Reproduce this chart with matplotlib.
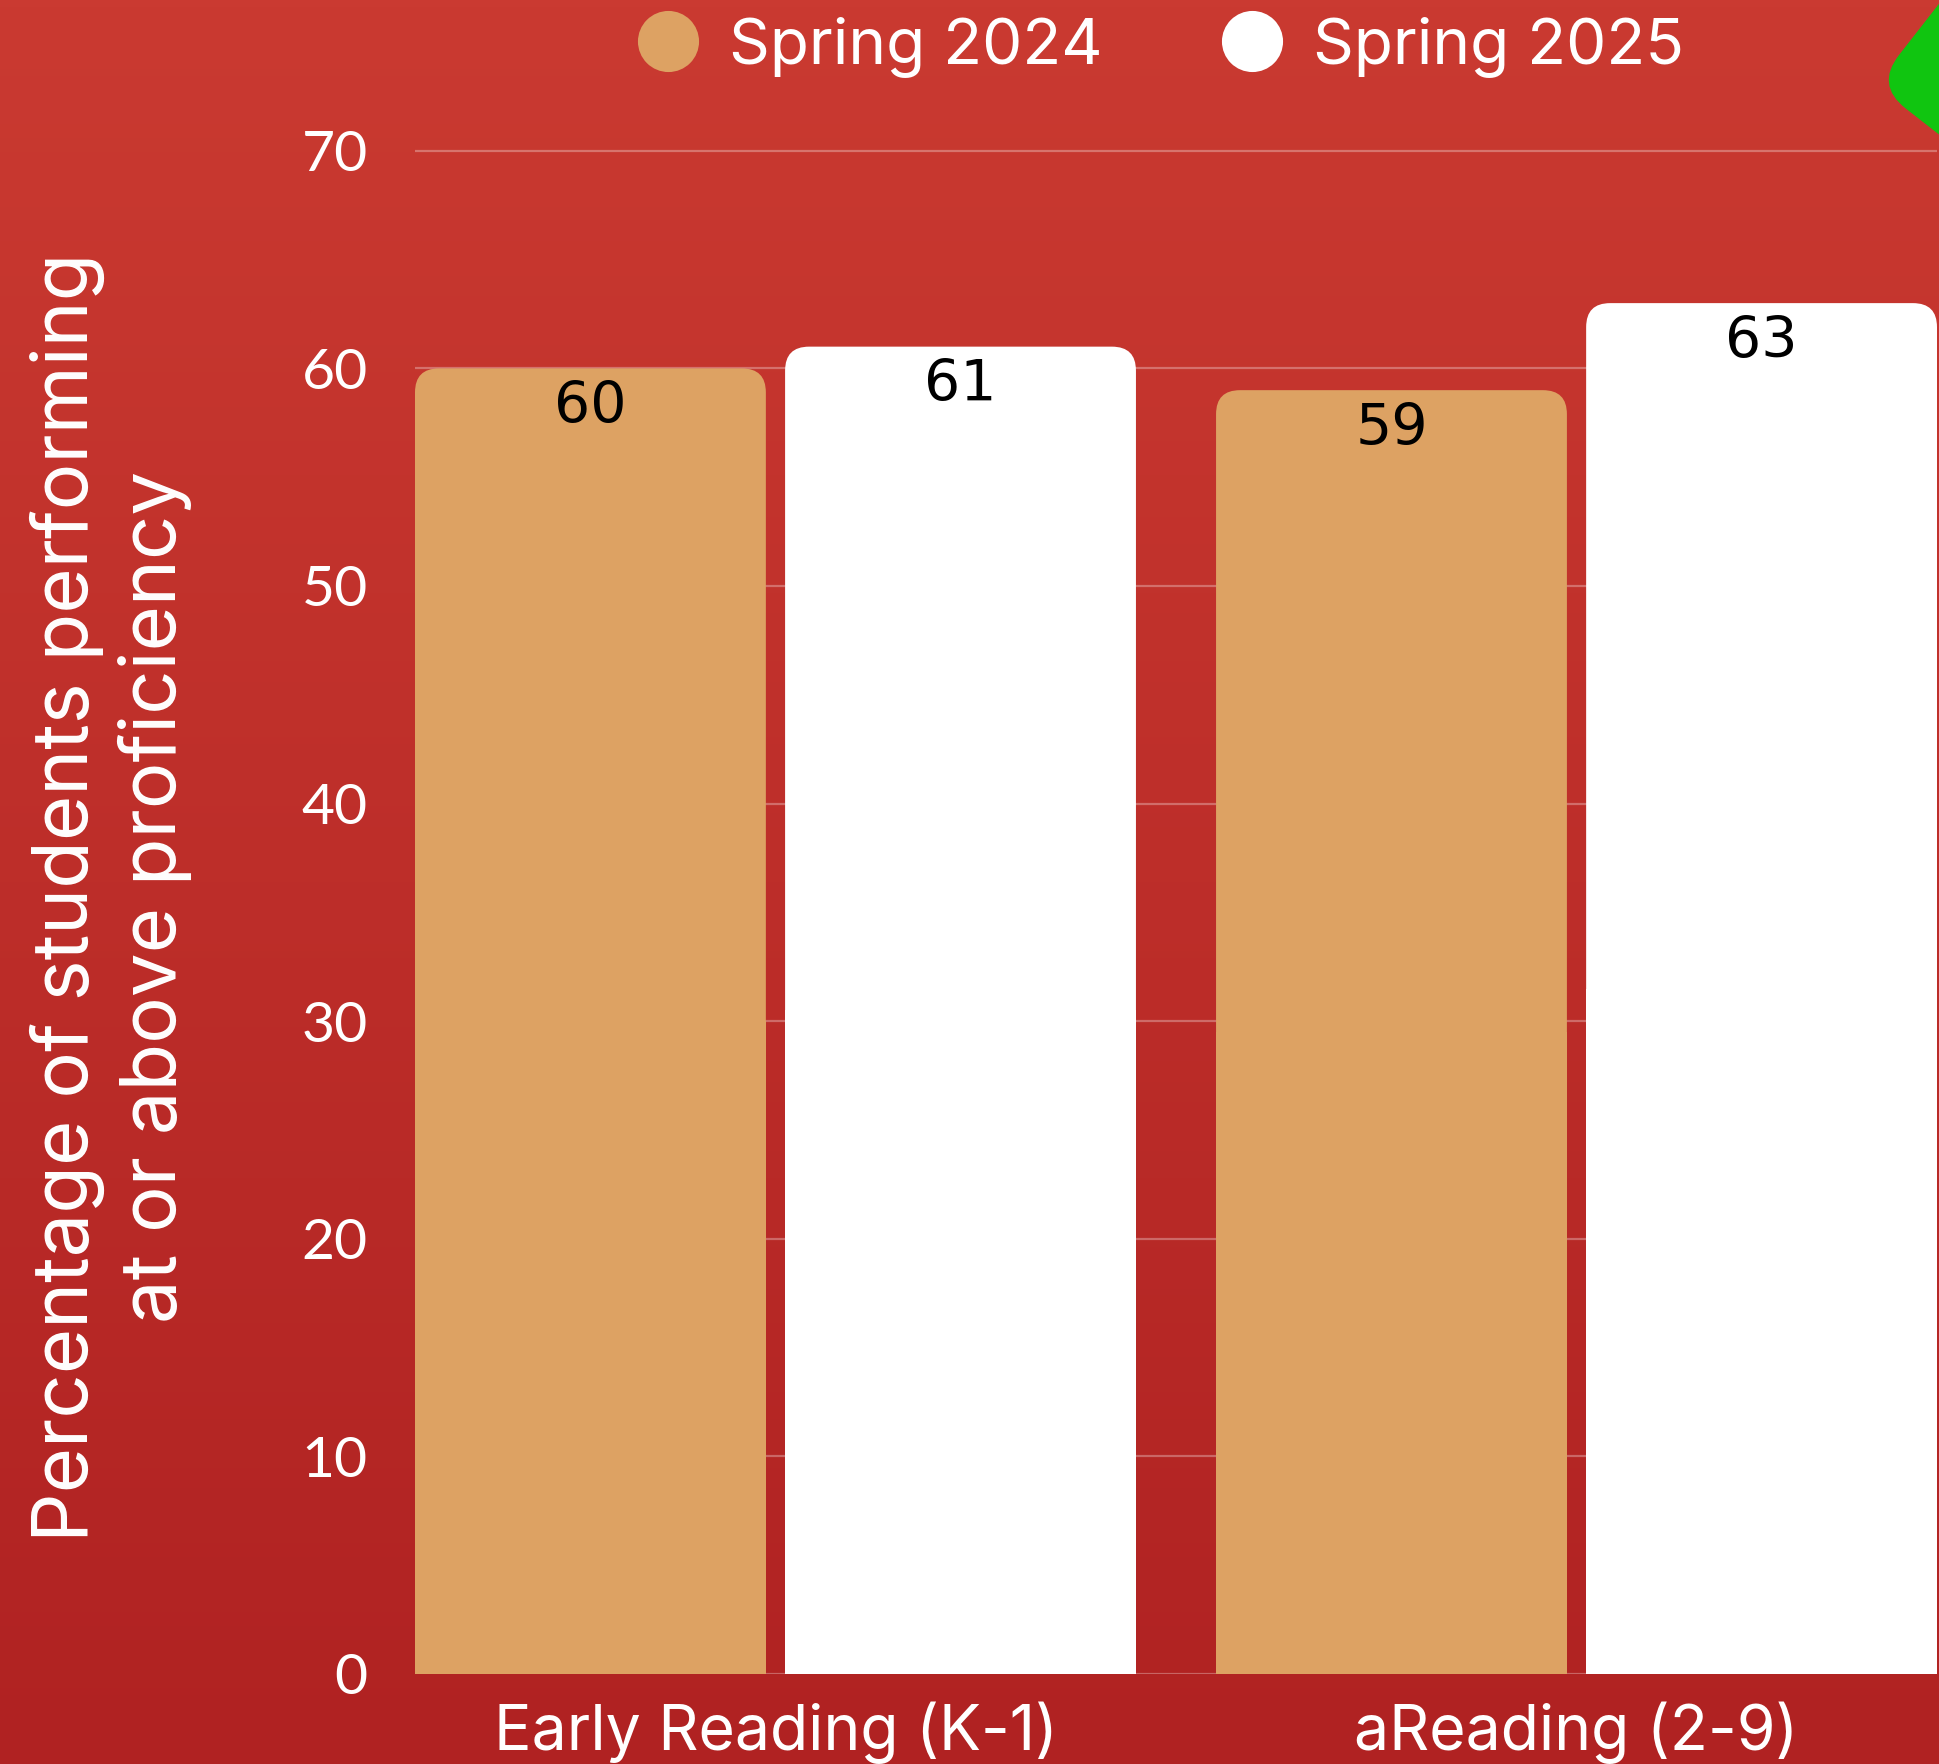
import matplotlib
matplotlib.use("Agg")
import matplotlib.pyplot as plt
import numpy as np
from matplotlib.patches import FancyBboxPatch, Rectangle
from matplotlib.lines import Line2D
import matplotlib.transforms as mtransforms

categories = ["Early Reading (K-1)", "aReading (2-9)"]
series_names = ["Spring 2024", "Spring 2025"]
spring_2024 = [60, 59]
spring_2025 = [61, 63]
y_ticks = [0, 10, 20, 30, 40, 50, 60, 70]

colors = ["#DDA263", "#FFFFFF"]
W, H = 1940, 1764
DPI = 100

fig = plt.figure(figsize=(W / DPI, H / DPI), dpi=DPI)

# background gradient (top lighter red, bottom darker)
bg = fig.add_axes([0, 0, 1, 1], zorder=-10)
top = np.array([202, 58, 49]) / 255
bot = np.array([176, 34, 34]) / 255
t = np.linspace(0, 1, 256)[:, None]
grad = top * (1 - t) + bot * t
bg.imshow(grad[:, None, :].repeat(2, axis=1), aspect="auto", extent=[0, 1, 0, 1])
bg.axis("off")

# green decoration, top right corner
diamond = FancyBboxPatch((-110, -110), 220, 220,
                         boxstyle="round,pad=0,rounding_size=38",
                         facecolor="#10C510", edgecolor="none")
tr = (mtransforms.Affine2D().rotate_deg(52).translate(2030, H - 66)
      + mtransforms.IdentityTransform())
diamond.set_transform(tr)
fig.patches.append(diamond)
diamond.set_figure(fig)

ax_l, ax_r, ax_b = 415, 1937, 1674
ymax = 71.5
px_per_unit = 21.76
ax_t = ax_b - ymax * px_per_unit
ax = fig.add_axes([ax_l / W, (H - ax_b) / H, (ax_r - ax_l) / W, (ax_b - ax_t) / H])
ax.set_facecolor("none")

x = np.arange(len(categories))
bw = 0.438
off = 0.231
ax.set_xlim(-0.45, 1.45)
ax.set_ylim(0, ymax)

ax.set_yticks(y_ticks)
ax.grid(axis="y", color="white", alpha=0.3, linewidth=1.6)
ax.set_axisbelow(True)
for s in ax.spines.values():
    s.set_visible(False)
ax.tick_params(length=0)
ax.tick_params(axis="y", pad=34, labelsize=41, labelcolor="white")
ax.tick_params(axis="x", pad=20, labelsize=45, labelcolor="white")
for lab in ax.get_yticklabels():
    lab.set_family("Lato")
ax.set_xticks(x)
ax.set_xticklabels(categories, family="Inter")

# rounded-top bars
unit_x = (ax_r - ax_l) / 1.9  # px per x unit
aspect = (1 / px_per_unit) / (1 / unit_x)
r = 24 / unit_x
for vals, c, sign in [(spring_2024, colors[0], -1), (spring_2025, colors[1], 1)]:
    bars = ax.bar(x + sign * off, vals, width=bw, color=c)
    for rect, v in zip(bars, vals):
        rect.set_visible(False)
        bx, bwid, bh = rect.get_x(), rect.get_width(), rect.get_height()
        ax.add_patch(FancyBboxPatch((bx, 0), bwid, bh,
                                    boxstyle=f"round,pad=0,rounding_size={r}",
                                    mutation_aspect=aspect, facecolor=c,
                                    edgecolor="none", zorder=2))
        ax.add_patch(Rectangle((bx, 0), bwid, bh / 2, facecolor=c,
                               edgecolor="none", zorder=2))
        ax.annotate(str(v), (bx + bwid / 2, bh), xytext=(0, -28),
                    textcoords="offset points", ha="center", va="center",
                    fontsize=41, color="black", family="DejaVu Sans", zorder=3)

fig.text(111 / W, 1 - 897 / H,
         "Percentage of students performing\nat or above proficiency",
         rotation=90, ha="center", va="center", multialignment="center",
         fontsize=56, color="white", family="Inter", linespacing=1.22)

handles = [Line2D([], [], marker="o", linestyle="none", markersize=44,
                  markerfacecolor=c, markeredgecolor="none") for c in colors]
fig.legend(handles, series_names, loc="center", bbox_to_anchor=(0.598, 1 - 47 / H),
           ncol=2, frameon=False, handletextpad=0.45, columnspacing=1.85,
           prop={"family": "Inter", "size": 46}, labelcolor="white",
           handlelength=1.0)

fig.savefig("out.png", dpi=DPI)
